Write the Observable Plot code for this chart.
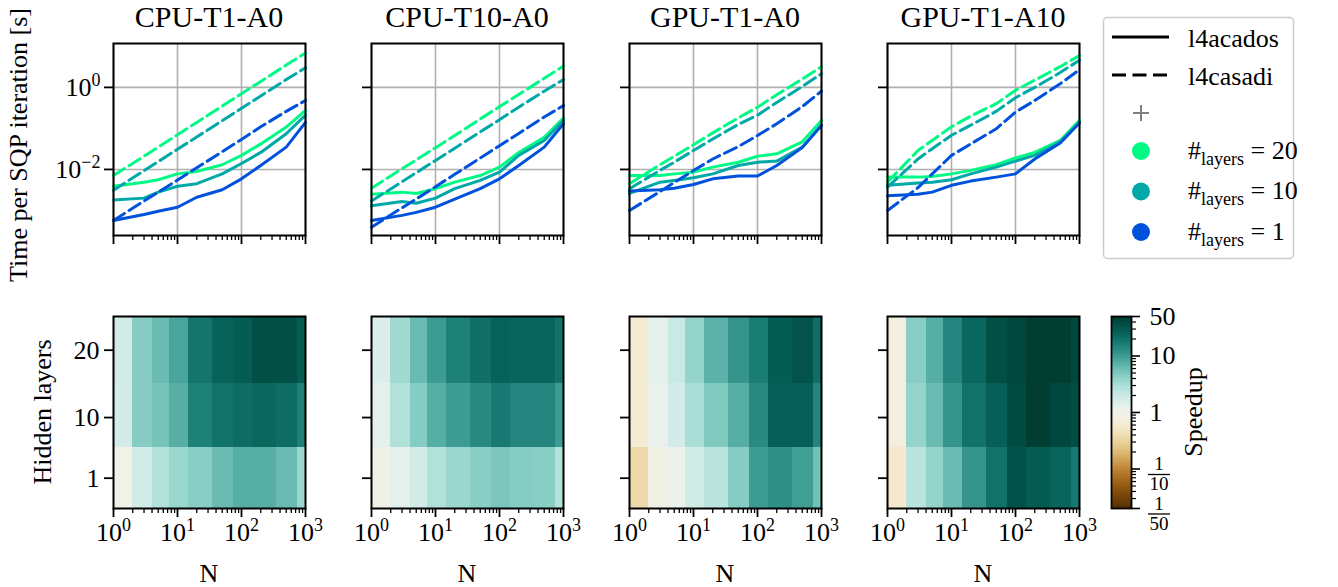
<!DOCTYPE html>
<html><head><meta charset="utf-8">
<script src="https://cdn.jsdelivr.net/npm/d3@7"></script>
<script src="https://cdn.jsdelivr.net/npm/@observablehq/plot@0.6"></script>
<style>
body{margin:0;background:#fff;}
#root{position:relative;width:1338px;height:587px;overflow:hidden;background:#fff;}
</style></head><body><div id="root"></div>
<script>
// ---------------- data ----------------
const N = [1, 3, 5, 10, 20, 50, 100, 200, 500, 1000];
const layers = [20, 10, 1];
const panelTitles = ["CPU-T1-A0", "CPU-T10-A0", "GPU-T1-A0", "GPU-T1-A10"];
const layerColors = ["#00fa85", "#00a8a8", "#0052dc"];
const solverLabels = ["l4acados", "l4casadi"];
const xMajorTicks = [1, 10, 100, 1000];
const timeTicks = [0.01, 1];
const layerTicks = [1, 10, 20];
const speedupTicks = [1/50, 1/10, 1, 10, 50];
const speedupTickLabels = ["1/50", "1/10", "1", "10", "50"];

// time per SQP iteration [s]; rows: #layers = 20, 10, 1
const acados_CPU_T1_A0 = [
  [0.0039, 0.0049, 0.0056, 0.0078, 0.0089, 0.013, 0.022, 0.042, 0.108, 0.275],
  [0.0018, 0.0020, 0.0028, 0.0039, 0.0045, 0.0078, 0.014, 0.026, 0.074, 0.21],
  [0.00057, 0.00080, 0.00096, 0.0012, 0.0021, 0.0032, 0.0059, 0.0125, 0.035, 0.14]];
const casadi_CPU_T1_A0 = [
  [0.0071, 0.021, 0.035, 0.070, 0.14, 0.35, 0.70, 1.4, 3.5, 6.9],
  [0.0031, 0.0093, 0.0155, 0.031, 0.062, 0.155, 0.31, 0.62, 1.55, 3.0],
  [0.00057, 0.0017, 0.0028, 0.0055, 0.011, 0.027, 0.054, 0.11, 0.26, 0.48]];
const acados_CPU_T10_A0 = [
  [0.0025, 0.0028, 0.0026, 0.0034, 0.0049, 0.0071, 0.0114, 0.026, 0.061, 0.18],
  [0.0013, 0.00166, 0.0015, 0.0020, 0.0034, 0.0054, 0.0086, 0.022, 0.051, 0.157],
  [0.00057, 0.00076, 0.00090, 0.0012, 0.0019, 0.0034, 0.0059, 0.0125, 0.035, 0.13]];
const casadi_CPU_T10_A0 = [
  [0.0035, 0.0104, 0.017, 0.034, 0.067, 0.17, 0.34, 0.67, 1.67, 3.3],
  [0.0017, 0.0050, 0.0083, 0.0166, 0.033, 0.082, 0.163, 0.33, 0.81, 1.55],
  [0.00039, 0.00116, 0.0019, 0.0038, 0.0076, 0.019, 0.038, 0.075, 0.19, 0.36]];
const acados_GPU_T1_A0 = [
  [0.0071, 0.0071, 0.0078, 0.0086, 0.0114, 0.015, 0.021, 0.024, 0.047, 0.157],
  [0.0026, 0.0049, 0.0054, 0.0063, 0.0078, 0.0125, 0.015, 0.016, 0.035, 0.12],
  [0.0030, 0.0032, 0.0035, 0.0043, 0.0059, 0.0069, 0.0069, 0.0125, 0.034, 0.12]];
const casadi_GPU_T1_A0 = [
  [0.0045, 0.013, 0.021, 0.040, 0.078, 0.18, 0.33, 0.66, 1.6, 3.2],
  [0.0034, 0.0095, 0.015, 0.029, 0.055, 0.125, 0.21, 0.43, 1.05, 2.15],
  [0.0010, 0.0029, 0.0048, 0.0094, 0.018, 0.036, 0.067, 0.13, 0.34, 0.81]];
const acados_GPU_T1_A10 = [
  [0.0065, 0.0065, 0.0067, 0.0078, 0.0095, 0.013, 0.019, 0.026, 0.051, 0.157],
  [0.0041, 0.0047, 0.0049, 0.0056, 0.0078, 0.0114, 0.016, 0.022, 0.047, 0.14],
  [0.0023, 0.0025, 0.0028, 0.0041, 0.0052, 0.0065, 0.0078, 0.018, 0.044, 0.135]];
const casadi_GPU_T1_A10 = [
  [0.0049, 0.029, 0.051, 0.11, 0.20, 0.40, 0.85, 1.5, 3.2, 6.0],
  [0.0037, 0.018, 0.032, 0.068, 0.12, 0.26, 0.56, 1.0, 2.3, 4.6],
  [0.0010, 0.0036, 0.0078, 0.022, 0.042, 0.098, 0.25, 0.48, 1.23, 2.7]];

// speedup; rows: hidden layers = 20, 10, 1
const speedup_CPU_T1_A0 = [
  [1.8, 4.4, 6.0, 8.5, 18, 25, 28, 35, 35, 28],
  [1.7, 4.4, 5.3, 7.5, 15, 19, 21, 23, 21, 15],
  [0.9, 1.8, 2.7, 3.6, 4.3, 6, 7.5, 7.5, 6, 3.6]];
const speedup_CPU_T10_A0 = [
  [1.5, 3.3, 6, 10, 15, 20, 25, 24, 24, 19],
  [1.3, 2.7, 4.5, 7.5, 10, 13, 17, 14, 14, 10],
  [0.85, 1.3, 1.8, 2.7, 3.5, 4.3, 5, 4.5, 4.3, 2.7]];
const speedup_GPU_T1_A0 = [
  [0.6, 1.3, 2, 3.8, 7, 11, 16, 28, 32, 20],
  [0.6, 1.1, 1.7, 3, 4.8, 7.5, 13, 26, 26, 14],
  [0.35, 0.85, 1.05, 1.8, 2.4, 4.5, 10, 12, 9.5, 5.5]];
const speedup_GPU_T1_A10 = [
  [0.75, 4.3, 7.5, 14, 23, 35, 40, 48, 48, 40],
  [0.75, 3.8, 6, 11, 19, 26, 37, 48, 40, 36],
  [0.55, 2.4, 3.8, 6, 11, 19, 33, 28, 24, 17]];

const acadosAll = [acados_CPU_T1_A0, acados_CPU_T10_A0, acados_GPU_T1_A0, acados_GPU_T1_A10];
const casadiAll = [casadi_CPU_T1_A0, casadi_CPU_T10_A0, casadi_GPU_T1_A0, casadi_GPU_T1_A10];
const speedupAll = [speedup_CPU_T1_A0, speedup_CPU_T10_A0, speedup_GPU_T1_A0, speedup_GPU_T1_A10];

// ---------------- layout ----------------
const FONT = "'Liberation Serif', 'Times New Roman', serif";
const root = document.getElementById("root");
const FW = 192, FH = 192;
const panelX = [113, 371, 629, 887];
const topY = 43, botY = 316;
const ML = 70, MR = 12, MT = 12, MB_TOP = 16, MB_BOT = 50;
const baseStyle = {background: "transparent", fontFamily: FONT, fontSize: "26px", overflow: "visible"};
const NS = "http://www.w3.org/2000/svg";

function place(el, left, top) {
  el.style.position = "absolute";
  el.style.left = left + "px";
  el.style.top = top + "px";
  root.appendChild(el);
}
function minorTicks(lo, hi) {
  const t = [];
  for (let d = lo; d < hi; d *= 10) for (let k = 2; k < 10; k++) { const v = k * d; if (v < hi) t.push(v); }
  return t;
}
const xMinor = minorTicks(xMajorTicks[0], xMajorTicks[xMajorTicks.length - 1]);
function supFormat(v) {
  const e = Math.round(Math.log10(v));
  return "10^" + (e < 0 ? "\u2212" + (-e) : String(e));
}
function supify(svg) {
  svg.querySelectorAll("text").forEach(t => {
    const s = t.textContent;
    const i = s.indexOf("^");
    if (i < 0) return;
    t.textContent = s.slice(0, i);
    const sp = document.createElementNS(NS, "tspan");
    sp.setAttribute("font-size", "18");
    sp.setAttribute("dy", "-10");
    sp.textContent = s.slice(i + 1);
    t.appendChild(sp);
  });
}
function edges(vals) {
  const e = [vals[0] - (vals[1] - vals[0]) / 2];
  for (let i = 0; i < vals.length - 1; i++) e.push((vals[i] + vals[i + 1]) / 2);
  const n = vals.length;
  e.push(vals[n - 1] + (vals[n - 1] - vals[n - 2]) / 2);
  return e;
}
const sLo = speedupTicks[0], sHi = speedupTicks[speedupTicks.length - 1];
const colorOpts = {type: "diverging-log", scheme: "BrBG", domain: [sLo, sHi], pivot: 1};
const gridOpts = {stroke: "#b0b0b0", strokeOpacity: 1, strokeWidth: 1.6};

// ---------------- top row: time per SQP iteration ----------------
panelTitles.forEach((title, i) => {
  const ac = [], ca = [];
  layers.forEach((L, j) => N.forEach((n, k) => {
    ac.push({N: n, t: acadosAll[i][j][k], layer: L});
    ca.push({N: n, t: casadiAll[i][j][k], layer: L});
  }));
  const p = Plot.plot({
    width: ML + FW + MR, height: MT + FH + MB_TOP,
    marginLeft: ML, marginRight: MR, marginTop: MT, marginBottom: MB_TOP,
    x: {type: "log", domain: [xMajorTicks[0], xMajorTicks[xMajorTicks.length - 1]]},
    y: {type: "log", domain: [10 ** -3.61, 10 ** 1.07]},
    color: {type: "ordinal", domain: layers, range: layerColors},
    style: baseStyle,
    marks: [
      Plot.gridX(xMajorTicks, gridOpts),
      Plot.gridY(timeTicks, gridOpts),
      Plot.line(ac, {x: "N", y: "t", z: "layer", stroke: "layer", strokeWidth: 3}),
      Plot.line(ca, {x: "N", y: "t", z: "layer", stroke: "layer", strokeWidth: 3, strokeDasharray: "13,5.5"}),
      Plot.frame({stroke: "black", strokeWidth: 2}),
      Plot.axisX(xMajorTicks, {tickSize: 9, tickFormat: () => "", strokeWidth: 1.8, label: null}),
      Plot.axisX(xMinor, {tickSize: 5, tickFormat: () => "", strokeWidth: 1.3, label: null}),
      Plot.axisY(timeTicks, {tickSize: 9, tickPadding: 4, tickFormat: i === 0 ? supFormat : () => "", strokeWidth: 1.8, label: null})
    ]
  });
  supify(p);
  place(p, panelX[i] - ML, topY - MT);
});

// ---------------- bottom row: speedup heatmaps ----------------
const layersAsc = [...layers].sort((a, b) => a - b);
const LE = edges(layersAsc);
const NE = edges(N).map(v => Math.min(Math.max(v, xMajorTicks[0]), xMajorTicks[xMajorTicks.length - 1]));
panelTitles.forEach((title, i) => {
  const cells = [];
  layers.forEach((L, j) => {
    const a = layersAsc.indexOf(L);
    N.forEach((n, k) => cells.push({x1: NE[k], x2: NE[k + 1], y1: LE[a], y2: LE[a + 1], s: speedupAll[i][j][k]}));
  });
  const p = Plot.plot({
    width: ML + FW + MR, height: MT + FH + MB_BOT,
    marginLeft: ML, marginRight: MR, marginTop: MT, marginBottom: MB_BOT,
    x: {type: "log", domain: [xMajorTicks[0], xMajorTicks[xMajorTicks.length - 1]]},
    y: {domain: [LE[0], LE[LE.length - 1]]},
    color: colorOpts,
    style: baseStyle,
    marks: [
      Plot.rect(cells, {x1: "x1", x2: "x2", y1: "y1", y2: "y2", fill: "s", shapeRendering: "crispEdges"}),
      Plot.frame({stroke: "black", strokeWidth: 2}),
      Plot.axisX(xMajorTicks, {tickSize: 9, tickPadding: 5, tickFormat: supFormat, strokeWidth: 1.8, label: null}),
      Plot.axisX(xMinor, {tickSize: 5, tickFormat: () => "", strokeWidth: 1.3, label: null}),
      Plot.axisY(layerTicks, {tickSize: 9, tickPadding: 5, tickFormat: i === 0 ? d => String(d) : () => "", strokeWidth: 1.8, label: null})
    ]
  });
  supify(p);
  place(p, panelX[i] - ML, botY - MT);
});

// ---------------- colorbar ----------------
{
  const steps = d3.range(241).map(k => sLo * (sHi / sLo) ** (k / 240));
  const bars = d3.pairs(steps).map(([a, b]) => ({y1: a, y2: b, s: Math.sqrt(a * b)}));
  const CML = 10, CMR = 80, CW = 20;
  const plainTicks = speedupTicks.map((v, k) => ({v, lab: speedupTickLabels[k]})).filter(d => !d.lab.includes("/"));
  const cbMinor = minorTicks(0.01, 100).filter(v => v > sLo && v < sHi && !speedupTicks.includes(v));
  const cb = Plot.plot({
    width: CML + CW + CMR, height: MT + FH + 40,
    marginLeft: CML, marginRight: CMR, marginTop: MT, marginBottom: 40,
    y: {type: "log", domain: [sLo / 1.0005, sHi * 1.0005]},
    color: colorOpts,
    style: baseStyle,
    marks: [
      Plot.rect(bars, {y1: "y1", y2: "y2", fill: "s", shapeRendering: "crispEdges"}),
      Plot.frame({stroke: "black", strokeWidth: 1.8}),
      Plot.axisY(speedupTicks, {anchor: "right", tickSize: 8, tickFormat: () => "", strokeWidth: 1.6, label: null}),
      Plot.axisY(cbMinor, {anchor: "right", tickSize: 4, tickFormat: () => "", strokeWidth: 1.2, label: null}),
      Plot.text(plainTicks, {y: "v", text: "lab", frameAnchor: "right", textAnchor: "start", dx: 18, fontSize: 26})
    ]
  });
  const ys = cb.scale("y");
  const xc = CML + CW + 18 + 10;
  speedupTicks.forEach((v, k) => {
    const lab = speedupTickLabels[k];
    if (!lab.includes("/")) return;
    const [a, b] = lab.split("/");
    const y = ys.apply(v);
    const g = document.createElementNS(NS, "g");
    g.setAttribute("font-size", "19");
    g.setAttribute("text-anchor", "middle");
    const t1 = document.createElementNS(NS, "text");
    t1.setAttribute("x", xc); t1.setAttribute("y", y + 2); t1.textContent = a;
    const ln = document.createElementNS(NS, "line");
    ln.setAttribute("x1", xc - 11); ln.setAttribute("x2", xc + 11);
    ln.setAttribute("y1", y + 6); ln.setAttribute("y2", y + 6);
    ln.setAttribute("stroke", "black"); ln.setAttribute("stroke-width", "1.3");
    const t2 = document.createElementNS(NS, "text");
    t2.setAttribute("x", xc); t2.setAttribute("y", y + 22); t2.textContent = b;
    g.appendChild(t1); g.appendChild(ln); g.appendChild(t2);
    cb.appendChild(g);
  });
  place(cb, 1111 - CML, botY - MT);
}

// ---------------- titles, labels, legend ----------------
const ov = d3.select(root).append("svg")
  .attr("width", 1338).attr("height", 587)
  .style("position", "absolute").style("left", "0px").style("top", "0px")
  .style("pointer-events", "none")
  .attr("font-family", FONT);
panelTitles.forEach((t, i) => ov.append("text").attr("x", panelX[i] + FW / 2).attr("y", 27)
  .attr("text-anchor", "middle").attr("font-size", 30).text(t));
panelX.forEach(x => ov.append("text").attr("x", x + FW / 2).attr("y", 582)
  .attr("text-anchor", "middle").attr("font-size", 26).text("N"));
ov.append("text").attr("transform", "translate(27,145) rotate(-90)").attr("text-anchor", "middle")
  .attr("font-size", 26).text("Time per SQP iteration [s]");
ov.append("text").attr("transform", "translate(51,412) rotate(-90)").attr("text-anchor", "middle")
  .attr("font-size", 26).text("Hidden layers");
ov.append("text").attr("transform", "translate(1202,412) rotate(-90)").attr("text-anchor", "middle")
  .attr("font-size", 26).text("Speedup");

const lg = ov.append("g");
lg.append("rect").attr("x", 1103.5).attr("y", 17.5).attr("width", 190).attr("height", 241).attr("rx", 4)
  .attr("fill", "white").attr("stroke", "#cccccc").attr("stroke-width", 1.5);
solverLabels.forEach((lab, k) => {
  const y = 37 + 38 * k;
  lg.append("line").attr("x1", 1112).attr("x2", 1169).attr("y1", y).attr("y2", y)
    .attr("stroke", "black").attr("stroke-width", 3.2).attr("stroke-dasharray", k === 1 ? "14,6.5" : null);
  lg.append("text").attr("x", 1188).attr("y", y + 9.5).attr("font-size", 26).text(lab);
});
lg.append("path").attr("d", "M1133,113H1149M1141,105V121").attr("stroke", "#808080").attr("stroke-width", 2);
layers.forEach((L, j) => {
  const y = 151 + 40.5 * j;
  lg.append("circle").attr("cx", 1141).attr("cy", y).attr("r", 9).attr("fill", layerColors[j]);
  const t = lg.append("text").attr("x", 1188).attr("y", y + 7.5).attr("font-size", 26);
  t.append("tspan").text("#");
  t.append("tspan").attr("font-size", 18).attr("dy", 6).text("layers");
  t.append("tspan").attr("dy", -6).text(" = " + L);
});
</script>
</body></html>
